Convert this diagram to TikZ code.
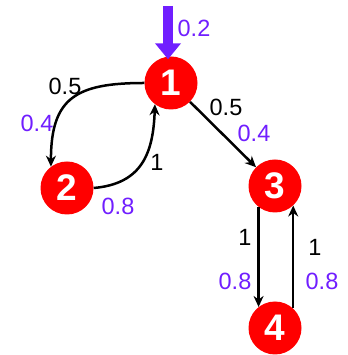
\documentclass[tikz,border=0pt]{standalone}
\usepackage{fontspec}
\setmainfont{Liberation Sans}
\usetikzlibrary{arrows.meta}
\definecolor{nodered}{RGB}{255,0,0}
\definecolor{vio}{RGB}{112,30,255}
\begin{document}
\begin{tikzpicture}[x=1pt,y=1pt,
  state/.style={circle,fill=nodered,minimum size=53pt,inner sep=0pt,text=white,font=\fontsize{37}{37}\bfseries\selectfont},
  edge/.style={line width=2.5pt,-{Stealth[length=11pt,width=10pt]}},
  lbl/.style={font=\fontsize{23.5}{23.5}\selectfont,inner sep=0pt},
  vlbl/.style={lbl,text=vio}]
\useasboundingbox (0,0) rectangle (347,355);
\node[state] (n1) at (171,272) {1};
\node[state] (n2) at (67,167) {2};
\node[state] (n3) at (275,169) {3};
\node[state] (n4) at (275,27) {4};
\coordinate (src) at (168,349);
\draw[vio,line width=10pt,-{Triangle[width=25pt,length=16pt]},shorten >=-3pt] (src) -- (src |- n1.north);
\draw[edge] (n1.180) to[out=180,in=90,looseness=1.4] (n2.127);
\draw[edge] (n2.0) to[out=5,in=268,looseness=1.2] (n1.233);
\draw[edge] (n1) -- (n3);
\draw[edge] (n3.-128) -- (n4.128);
\draw[edge] (n4.47) -- (n3.-47);
\node[vlbl] (l0) at (194,327) {0.2};
\node[lbl] (l12a) at (65,269) {0.5};
\node[vlbl] (l12b) at (37,232) {0.4};
\node[lbl] (l21a) at (157,193) {1};
\node[vlbl] (l21b) at (118,149) {0.8};
\node[lbl] (l13a) at (226,248) {0.5};
\node[vlbl] (l13b) at (254,222) {0.4};
\node[lbl] (l34a) at (245,118) {1};
\node[vlbl] (l34b) at (235,74) {0.8};
\node[lbl] (l43a) at (315,108) {1};
\node[vlbl] (l43b) at (322,74) {0.8};
\end{tikzpicture}
\end{document}
